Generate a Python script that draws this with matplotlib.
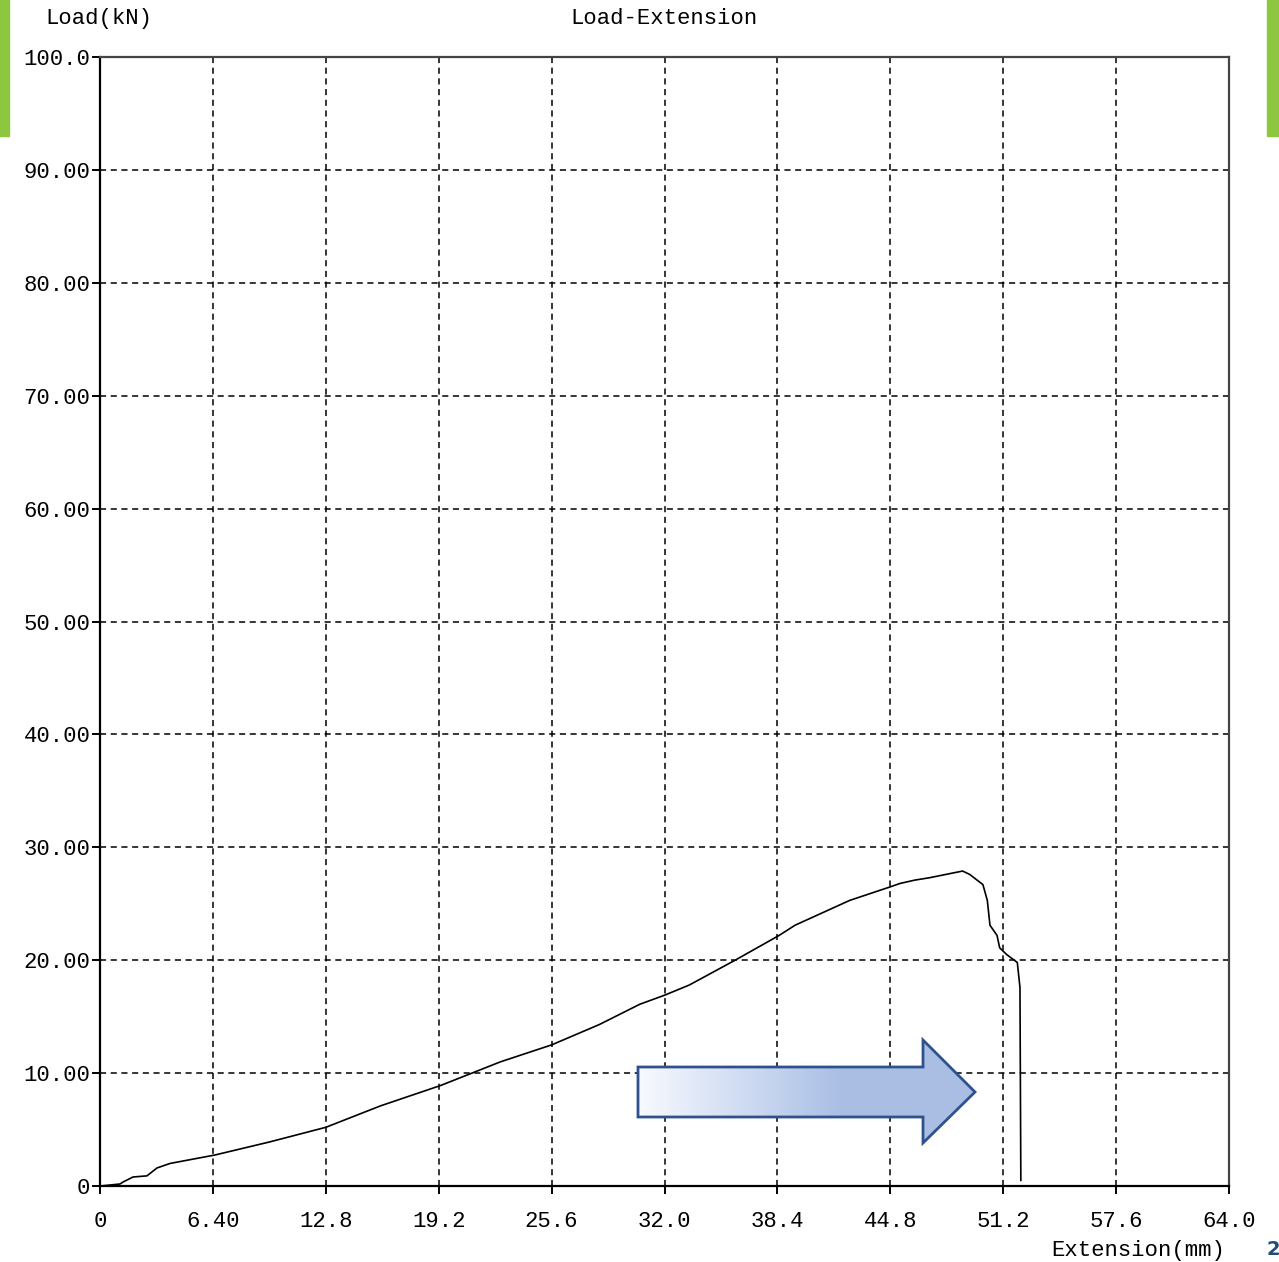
import matplotlib.pyplot as plt
import numpy as np
from matplotlib.patches import Polygon, Rectangle

# curve (extension mm, load kN)
extension = [0.0, 1.13, 1.30, 1.87, 2.66, 3.23, 3.97, 6.52, 9.6, 12.8, 15.9, 19.3,
             22.7, 25.6, 28.3, 30.6, 32.0, 33.4, 36.0, 38.5, 39.4, 42.5, 44.8,
             45.35, 46.2, 47.0, 48.9, 49.3, 50.05, 50.3, 50.45, 50.85, 51.0,
             51.4, 52.0, 52.15, 52.2]
load = [0.0, 0.18, 0.35, 0.8, 0.9, 1.6, 2.0, 2.75, 3.9, 5.2, 7.1, 8.9,
        11.0, 12.5, 14.3, 16.1, 16.9, 17.8, 20.0, 22.2, 23.1, 25.3, 26.5,
        26.8, 27.1, 27.3, 27.9, 27.6, 26.7, 25.3, 23.1, 22.2, 21.1,
        20.5, 19.8, 17.6, 0.5]

x_ticks = [0, 6.4, 12.8, 19.2, 25.6, 32.0, 38.4, 44.8, 51.2, 57.6, 64.0]
x_labels = ['0', '6.40', '12.8', '19.2', '25.6', '32.0', '38.4', '44.8', '51.2', '57.6', '64.0']
y_ticks = [0, 10, 20, 30, 40, 50, 60, 70, 80, 90, 100]
y_labels = ['0', '10.00', '20.00', '30.00', '40.00', '50.00', '60.00', '70.00', '80.00', '90.00', '100.0']

plt.rcParams['font.family'] = ['Liberation Mono', 'DejaVu Sans Mono']
fs = 16

fig = plt.figure(figsize=(12.79, 12.62), dpi=100)
ax = fig.add_axes([0.0782, 0.0602, 0.8827, 0.8946])

ax.plot(extension, load, color='black', lw=1.2)
ax.set_xlim(0, 64)
ax.set_ylim(0, 100)
ax.set_xticks(x_ticks)
ax.set_xticklabels(x_labels, fontsize=fs)
ax.set_yticks(y_ticks)
ax.set_yticklabels(y_labels, fontsize=fs)
ax.tick_params(direction='out', length=6, width=1.4, color='black')
ax.tick_params(axis='x', pad=12)
ax.tick_params(axis='y', pad=1)
ax.grid(True, color='black', lw=1.1, linestyle=(0, (4, 3)))
for s in ax.spines.values():
    s.set_linewidth(1.6)
ax.spines['top'].set_color('#444444')
ax.spines['right'].set_color('#444444')

fig.text(0.0352, 0.985, 'Load(kN)', fontsize=fs, va='center', ha='left')
fig.text(0.519, 0.985, 'Load-Extension', fontsize=fs, va='center', ha='center')
fig.text(0.958, 0.0095, 'Extension(mm)', fontsize=fs, va='center', ha='right')

# green side bars of the slide
fig.patches.append(Rectangle((0, 0.892), 0.007, 0.108, transform=fig.transFigure,
                             color='#8DC63F', zorder=5))
fig.patches.append(Rectangle((0.991, 0.892), 0.009, 0.108, transform=fig.transFigure,
                             color='#8DC63F', zorder=5))
fig.text(0.990, 0.002, '2', fontsize=14, color='#1F4E79', fontweight='bold',
         family='DejaVu Sans', va='bottom', ha='left')

# gradient arrow (figure pixel coordinates -> fraction)
W, H = 1279, 1262
pts = [(638, 1067), (923, 1067), (923, 1040), (975, 1092), (923, 1143),
       (923, 1117), (638, 1117)]
pts = [(px / W, 1 - py / H) for px, py in pts]
arrow = Polygon(pts, closed=True, transform=fig.transFigure, facecolor='none',
                edgecolor='#2F528F', lw=2, zorder=6)
fig.patches.append(arrow)
grad = np.linspace(0, 1, 256)
c0 = np.array([0.97, 0.98, 1.0])
c1 = np.array([0.667, 0.749, 0.898])
t = np.clip(grad / 0.6, 0, 1)
img = (c0[None, :] * (1 - t[:, None]) + c1[None, :] * t[:, None])[None, :, :]
gax = fig.add_axes([638 / W, 1 - 1143 / H, (975 - 638) / W, (1143 - 1040) / H])
gax.set_axis_off()
im = gax.imshow(img, aspect='auto', extent=[0, 1, 0, 1])
clip = Polygon(pts, closed=True, transform=fig.transFigure)
im.set_clip_path(clip)

fig.savefig('out.png', dpi=100)
